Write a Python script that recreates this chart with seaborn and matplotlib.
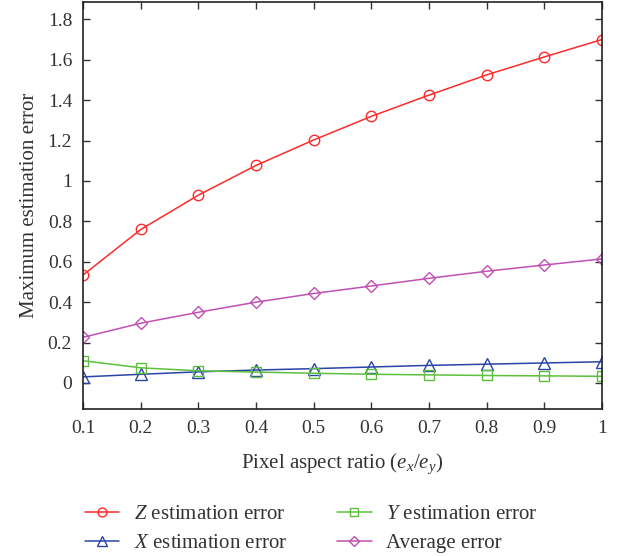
import pandas as pd
import seaborn as sns
import matplotlib.pyplot as plt

# Data
ratio = [0.1, 0.2, 0.3, 0.4, 0.5, 0.6, 0.7, 0.8, 0.9, 1.0]
z_err = [0.535, 0.76, 0.93, 1.077, 1.203, 1.32, 1.425, 1.525, 1.614, 1.70]
x_err = [0.03, 0.043, 0.055, 0.064, 0.071, 0.079, 0.087, 0.093, 0.099, 0.105]
y_err = [0.11, 0.075, 0.06, 0.054, 0.048, 0.043, 0.04, 0.037, 0.035, 0.033]
avg_err = [0.226, 0.296, 0.35, 0.40, 0.443, 0.48, 0.518, 0.553, 0.584, 0.614]

sns.set_style("ticks")
plt.rcParams['font.family'] = ['Liberation Serif', 'DejaVu Serif']
plt.rcParams['mathtext.fontset'] = 'custom'
plt.rcParams['mathtext.rm'] = 'Liberation Serif'
plt.rcParams['mathtext.it'] = 'Liberation Serif:italic'

data = pd.DataFrame({'ratio': ratio, 'Z': z_err, 'X': x_err,
                     'Y': y_err, 'Avg': avg_err})

fig = plt.figure(figsize=(6.21, 5.56), dpi=100)
ax = fig.add_axes([0.134, 0.264, 0.835, 0.732])

series = [
    ('Z', '$Z$ estimation error', '#ff2a2a', 'o', 7.5),
    ('X', '$X$ estimation error', '#2a44a8', '^', 8),
    ('Y', '$Y$ estimation error', '#5cc03c', 's', 6.5),
    ('Avg', 'Average error', '#c050b4', 'D', 6.5),
]
for col, label, color, marker, ms in series:
    sns.lineplot(data=data, x='ratio', y=col, ax=ax, color=color, label=label,
                 marker=marker, markersize=ms, markerfacecolor='none',
                 markeredgecolor=color, markeredgewidth=1.0, linewidth=1.1)

ax.set_xlim(0.1, 1.0)
ax.set_ylim(-0.13, 1.885)
ax.set_xticks(ratio)
ax.set_xticklabels(['0.1', '0.2', '0.3', '0.4', '0.5', '0.6', '0.7', '0.8', '0.9', '1'])
yt = [0, 0.2, 0.4, 0.6, 0.8, 1.0, 1.2, 1.4, 1.6, 1.8]
ax.set_yticks(yt)
ax.set_yticklabels(['0', '0.2', '0.4', '0.6', '0.8', '1', '1.2', '1.4', '1.6', '1.8'])
ax.tick_params(direction='in', top=True, right=True, length=5, width=1,
               labelsize=14, colors='#333333', labelcolor='#333333', pad=8)
for s in ax.spines.values():
    s.set_linewidth(1.2)
    s.set_color('#222222')

ax.set_xlabel('Pixel aspect ratio $(e_x/e_y)$', fontsize=15, color='#333333', labelpad=10)
ax.set_ylabel('Maximum estimation error', fontsize=15, color='#333333', labelpad=6)

handles, labels = ax.get_legend_handles_labels()
ax.get_legend().remove()
fig.legend(handles, labels, loc='upper left', bbox_to_anchor=(0.137, 0.092),
           ncol=2, frameon=False, fontsize=15, handlelength=1.65,
           handletextpad=0.7, columnspacing=2.4, labelspacing=0.45,
           borderpad=0, borderaxespad=0, markerscale=0.85, labelcolor='#333333')

fig.savefig('out.png', dpi=100)
